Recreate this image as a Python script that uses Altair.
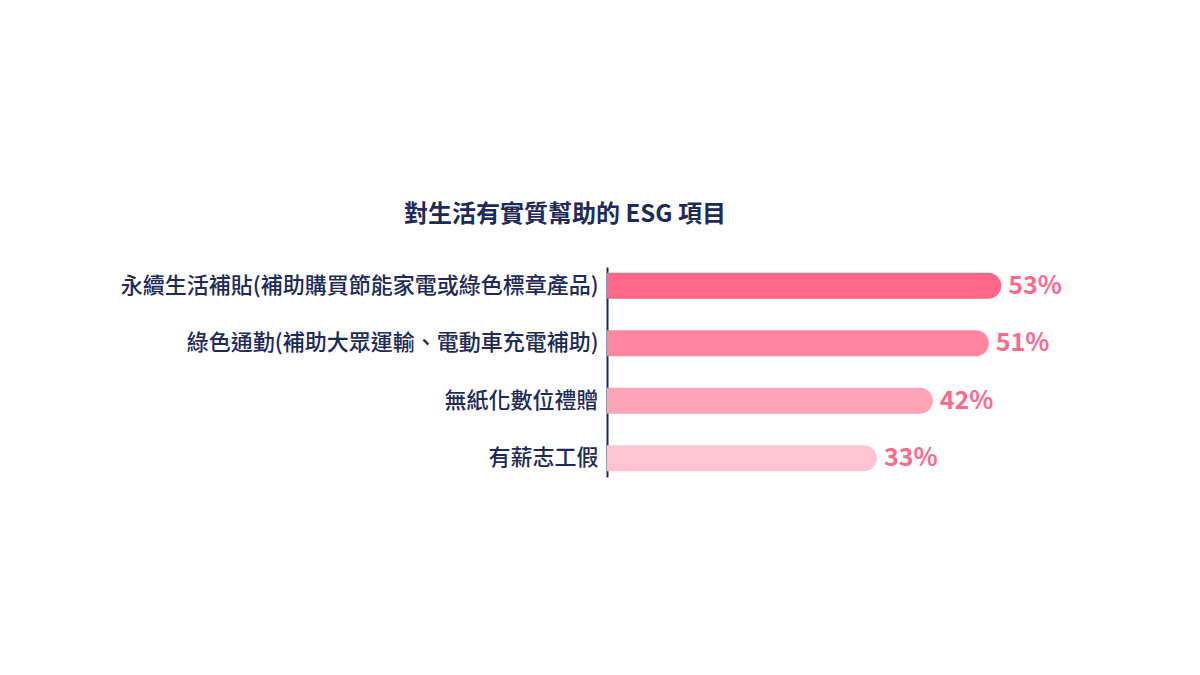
import altair as alt
import pandas as pd

categories = [
    "永續生活補貼(補助購買節能家電或綠色標章產品)",
    "綠色通勤(補助大眾運輸、電動車充電補助)",
    "無紙化數位禮贈",
    "有薪志工假",
]
values = [53, 51, 42, 33]
labels = ["53%", "51%", "42%", "33%"]
colors = ["#ff6688", "#ff85a1", "#ffa3b8", "#ffc3d1"]

df = pd.DataFrame({"item": categories, "value": values, "label": labels})

FONT = "Noto Sans CJK TC"
NAVY = "#1d2a5c"

y_enc = alt.Y(
    "item:N",
    sort=categories,
    title=None,
    scale=alt.Scale(paddingInner=0.548, paddingOuter=0.1),
    axis=alt.Axis(
        domain=True,
        domainColor=NAVY,
        domainWidth=2,
        ticks=False,
        labelFont=FONT,
        labelFontSize=22,
        labelFontWeight=500,
        labelColor=NAVY,
        labelPadding=9,
        labelLimit=600,
    ),
)
x_scale = alt.Scale(domain=[-10.4, 70], zero=False, nice=False)

bars = alt.Chart(df).mark_bar(
    cornerRadiusTopRight=13, cornerRadiusBottomRight=13
).encode(
    y=y_enc,
    x=alt.X("value:Q", scale=x_scale, axis=None),
    x2=alt.datum(-10.4),
    color=alt.Color(
        "item:N",
        scale=alt.Scale(domain=categories, range=colors),
        legend=None,
    ),
)

text = alt.Chart(df).mark_text(
    align="left",
    baseline="middle",
    dx=7,
    font=FONT,
    fontSize=25,
    fontWeight="bold",
    color="#ff6a8c",
).encode(
    y=alt.Y("item:N", sort=categories),
    x=alt.X("value:Q", scale=x_scale),
    text="label:N",
)

chart = (
    alt.layer(bars, text)
    .properties(
        width=500,
        height=210,
        autosize=alt.AutoSizeParams(type="none"),
        padding={"left": 599, "top": 259, "right": 85, "bottom": 190},
        title=alt.TitleParams(
            "對生活有實質幫助的 ESG 項目",
            font=FONT,
            fontSize=24,
            fontWeight="bold",
            color=NAVY,
            anchor="middle",
            dx=-292,
            offset=40,
        ),
    )
    .configure_view(stroke=None)
)

chart.save("out.html", embed_options={"renderer": "svg", "actions": False})
